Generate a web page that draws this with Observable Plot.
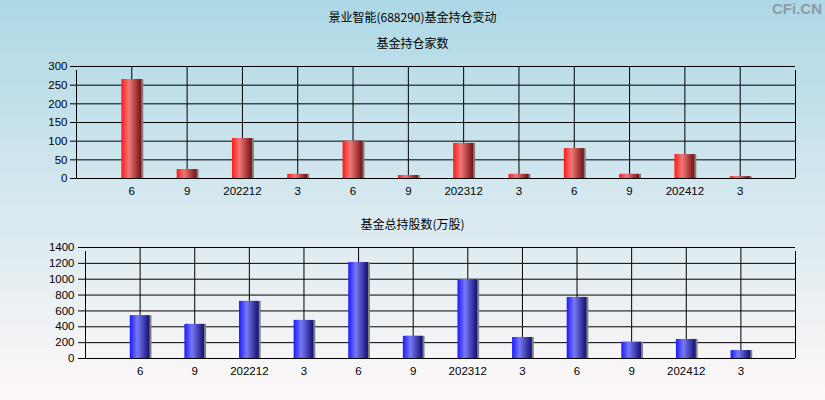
<!DOCTYPE html>
<html>
<head>
<meta charset="utf-8">
<script src="https://cdn.jsdelivr.net/npm/d3@7"></script>
<script src="https://cdn.jsdelivr.net/npm/@observablehq/plot@0.6"></script>
<style>
  html, body { margin: 0; padding: 0; }
  #wrap {
    position: relative; width: 825px; height: 400px; overflow: hidden;
    background: linear-gradient(to bottom, #add8e6 0%, #fff8f8 100%);
    font-family: "Noto Sans CJK SC", sans-serif;
  }
  .ttl {
    position: absolute; left: 0; width: 825px; text-align: center;
    font-size: 12px; line-height: 16px; color: #000;
  }
  #wm {
    position: absolute; right: 3px; top: 0px; font-family: "Liberation Sans", sans-serif;
    font-weight: bold; font-size: 15px; color: #8e9ba6; line-height: 18px;
  }
  .chart { position: absolute; left: 0; }
</style>
</head>
<body>
<div id="wrap">
  <div class="ttl" style="top:9px">景业智能(688290)基金持仓变动</div>
  <div id="wm">CFi.CN</div>
  <div class="ttl" style="top:35px">基金持仓家数</div>
  <div class="ttl" style="top:216px">基金总持股数(万股)</div>
  <div class="chart" id="c1" style="top:56px"></div>
  <div class="chart" id="c2" style="top:237px"></div>
</div>
<script>
// Data
const quarters = ["6", "9", "202212", "3", "6", "9", "202312", "3", "6", "9", "202412", "3"];
const fundCounts = [265, 24, 107, 11, 100, 8, 94, 11, 80, 11, 64, 5];
const fundShares = [540, 430, 720, 480, 1210, 280, 995, 265, 770, 205, 240, 100];
const countTicks = [0, 50, 100, 150, 200, 250, 300];
const shareTicks = [0, 200, 400, 600, 800, 1000, 1200, 1400];

const positions = quarters.map((q, i) => i + 1);
const halfW = 0.18;

function makeChart(values, yTicks, yMax, opts) {
  const data = values.map((v, i) => ({pos: i + 1, value: v}));
  const svg = Plot.plot({
    width: 825,
    height: opts.height,
    marginLeft: opts.left,
    marginRight: 30,
    marginTop: 10,
    marginBottom: opts.bottom,
    x: {domain: [0, 13], axis: null},
    y: {domain: [0, yMax], axis: null},
    style: {background: "transparent", overflow: "visible", fontFamily: "Liberation Sans, Arial, sans-serif", fontSize: "11.5px", color: "#000"},
    marks: [
      Plot.ruleY(yTicks, {stroke: "#000", strokeWidth: 1}),
      Plot.ruleX(positions, {y1: 0, y2: yMax, stroke: "#000", strokeWidth: 1}),
      Plot.ruleX([0, 13], {y1: 0, y2: yMax, stroke: "#000", strokeWidth: 1, insetBottom: -4}),
      Plot.rect(data, {x1: d => d.pos - halfW, x2: d => d.pos + halfW, y1: 0, y2: "value", fill: "#7f7f7f", dx: 2}),
      Plot.rect(data, {x1: d => d.pos - halfW, x2: d => d.pos + halfW, y1: 0, y2: "value", fill: `url(#${opts.grad})`}),
      Plot.axisY({ticks: yTicks, tickFormat: d => String(d), label: null, tickSize: opts.tickSize, tickPadding: opts.tickPadding, stroke: "#000", fill: "#000"}),
      Plot.axisX({ticks: positions, tickFormat: p => quarters[p - 1], label: null, tickSize: 0, tickPadding: 8, fill: "#000"})
    ]
  });
  const defs = `
    <linearGradient id="${opts.grad}" x1="0" x2="1" y1="0" y2="0">
      <stop offset="0" stop-color="${opts.c0}"/>
      <stop offset="0.38" stop-color="${opts.c1}"/>
      <stop offset="1" stop-color="${opts.c2}"/>
    </linearGradient>`;
  d3.select(svg).insert("defs", ":first-child").html(defs);
  return svg;
}

document.getElementById("c1").appendChild(makeChart(fundCounts, countTicks, 300, {
  height: 144, left: 76, bottom: 22, tickSize: 6, tickPadding: 3, grad: "redGrad",
  c0: "#ff1a1a", c1: "#f07878", c2: "#751010"
}));
document.getElementById("c2").appendChild(makeChart(fundShares, shareTicks, 1400, {
  height: 143, left: 85, bottom: 22, tickSize: 7, tickPadding: 4, grad: "blueGrad",
  c0: "#1a1aff", c1: "#7878f5", c2: "#101075"
}));
</script>
</body>
</html>
